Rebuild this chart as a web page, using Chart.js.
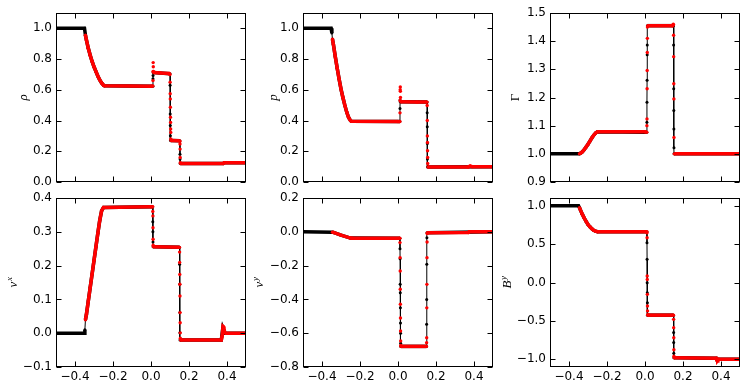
<!DOCTYPE html>
<html>
<head>
<meta charset="utf-8">
<script src="https://cdn.jsdelivr.net/npm/chart.js@4.4.1/dist/chart.umd.min.js"></script>
<style>
  html, body { margin: 0; padding: 0; background: #fff; }
  body { width: 748px; height: 390px; position: relative; overflow: hidden; }
  .panel { position: absolute; }
</style>
</head>
<body>
<div class="panel" id="w0"><canvas id="c0"></canvas></div>
<div class="panel" id="w1"><canvas id="c1"></canvas></div>
<div class="panel" id="w2"><canvas id="c2"></canvas></div>
<div class="panel" id="w3"><canvas id="c3"></canvas></div>
<div class="panel" id="w4"><canvas id="c4"></canvas></div>
<div class="panel" id="w5"><canvas id="c5"></canvas></div>
<script>
// shared x ticks
const xTicks = [-0.4, -0.2, 0.0, 0.2, 0.4];

// density rho
const rhoTicks = [0.0, 0.2, 0.4, 0.6, 0.8, 1.0];
const rhoRefX = [-0.5, -0.35, -0.345, -0.34, -0.33, -0.32, -0.31, -0.30, -0.29, -0.28, -0.27, -0.26, -0.25, -0.245, 0.01, 0.0105, 0.011, 0.0115, 0.1, 0.1005, 0.101, 0.1015, 0.102, 0.1025, 0.152, 0.1525, 0.153, 0.1535, 0.38, 0.385, 0.5];
const rhoRefY = [1.0, 1.0, 0.955, 0.925, 0.87, 0.825, 0.785, 0.75, 0.72, 0.69, 0.665, 0.645, 0.63, 0.626, 0.624, 0.672, 0.694, 0.712, 0.705, 0.629, 0.443, 0.367, 0.301, 0.27, 0.268, 0.181, 0.149, 0.12, 0.12, 0.125, 0.125];
const rhoNumX = [-0.345, -0.34, -0.33, -0.32, -0.31, -0.30, -0.29, -0.28, -0.27, -0.26, -0.25, -0.245, 0.0, 0.01, 0.0105, 0.011, 0.0115, 0.012, 0.0125, 0.014, 0.05, 0.095, 0.1, 0.1005, 0.101, 0.1015, 0.102, 0.1025, 0.103, 0.1035, 0.104, 0.1045, 0.106, 0.15, 0.152, 0.1525, 0.153, 0.1535, 0.154, 0.156, 0.38, 0.385, 0.5];
const rhoNumY = [0.955, 0.925, 0.87, 0.825, 0.785, 0.75, 0.72, 0.69, 0.665, 0.645, 0.63, 0.626, 0.624, 0.625, 0.66, 0.72, 0.777, 0.75, 0.72, 0.712, 0.71, 0.706, 0.70, 0.65, 0.574, 0.541, 0.487, 0.421, 0.388, 0.345, 0.323, 0.28, 0.27, 0.268, 0.265, 0.247, 0.214, 0.159, 0.126, 0.12, 0.12, 0.125, 0.125];

// pressure p
const pTicks = [0.0, 0.2, 0.4, 0.6, 0.8, 1.0];
const pRefX = [-0.5, -0.352, -0.348, -0.345, -0.34, -0.33, -0.32, -0.31, -0.30, -0.29, -0.28, -0.27, -0.26, -0.25, -0.245, 0.01, 0.0105, 0.011, 0.0115, 0.153, 0.1535, 0.154, 0.1545, 0.155, 0.1555, 0.5];
const pRefY = [1.0, 1.0, 0.97, 0.93, 0.895, 0.815, 0.74, 0.67, 0.605, 0.55, 0.5, 0.455, 0.42, 0.4, 0.395, 0.394, 0.478, 0.533, 0.522, 0.52, 0.45, 0.36, 0.25, 0.15, 0.098, 0.1];
const pNumX = [-0.345, -0.34, -0.33, -0.32, -0.31, -0.30, -0.29, -0.28, -0.27, -0.26, -0.25, -0.245, 0.0, 0.01, 0.0105, 0.011, 0.0115, 0.012, 0.0125, 0.013, 0.015, 0.10, 0.153, 0.1535, 0.154, 0.1545, 0.155, 0.1555, 0.156, 0.1565, 0.158, 0.37, 0.38, 0.39, 0.5];
const pNumY = [0.93, 0.895, 0.815, 0.74, 0.67, 0.605, 0.55, 0.5, 0.455, 0.42, 0.4, 0.395, 0.393, 0.394, 0.45, 0.53, 0.6, 0.618, 0.59, 0.55, 0.522, 0.52, 0.52, 0.498, 0.40, 0.30, 0.257, 0.203, 0.159, 0.12, 0.098, 0.098, 0.104, 0.1, 0.1];

// Lorentz factor Gamma
const gamTicks = [0.9, 1.0, 1.1, 1.2, 1.3, 1.4, 1.5];
const gamRefX = [-0.5, -0.345, -0.34, -0.33, -0.32, -0.31, -0.30, -0.29, -0.28, -0.27, -0.26, -0.25, 0.0095, 0.01, 0.0105, 0.011, 0.0115, 0.012, 0.0125, 0.15, 0.1505, 0.151, 0.1515, 0.152, 0.1525, 0.153, 0.5];
const gamRefY = [1.0, 1.0, 1.002, 1.007, 1.015, 1.024, 1.034, 1.045, 1.056, 1.066, 1.074, 1.078, 1.077, 1.112, 1.183, 1.261, 1.352, 1.386, 1.455, 1.455, 1.386, 1.231, 1.154, 1.088, 1.022, 1.0, 1.0];
const gamNumX = [-0.345, -0.34, -0.33, -0.32, -0.31, -0.30, -0.29, -0.28, -0.27, -0.26, -0.25, 0.0, 0.0095, 0.01, 0.0105, 0.011, 0.0115, 0.012, 0.0125, 0.013, 0.015, 0.145, 0.149, 0.15, 0.1505, 0.151, 0.1515, 0.152, 0.1525, 0.154, 0.5];
const gamNumY = [1.0, 1.002, 1.007, 1.015, 1.024, 1.034, 1.045, 1.056, 1.066, 1.074, 1.078, 1.078, 1.077, 1.1, 1.124, 1.231, 1.296, 1.36, 1.41, 1.45, 1.455, 1.455, 1.46, 1.458, 1.421, 1.345, 1.249, 1.195, 1.058, 1.0, 1.0];

// velocity v^x
const vxTicks = [-0.1, 0.0, 0.1, 0.2, 0.3, 0.4];
const vxRefX = [-0.5, -0.352, -0.348, -0.345, -0.34, -0.33, -0.32, -0.31, -0.30, -0.29, -0.28, -0.27, -0.26, -0.25, 0.009, 0.0095, 0.01, 0.0105, 0.011, 0.15, 0.1505, 0.151, 0.1515, 0.152, 0.1525, 0.37, 0.378, 0.388, 0.5];
const vxRefY = [0.0, 0.0, 0.01, 0.04, 0.055, 0.095, 0.135, 0.175, 0.215, 0.255, 0.295, 0.333, 0.362, 0.372, 0.374, 0.33, 0.3, 0.27, 0.256, 0.254, 0.204, 0.145, 0.061, 0.001, -0.02, -0.02, 0.015, 0.0, 0.0];
const vxNumX = [-0.345, -0.34, -0.33, -0.32, -0.31, -0.30, -0.29, -0.28, -0.27, -0.26, -0.25, 0.0, 0.009, 0.0095, 0.01, 0.0105, 0.011, 0.0115, 0.013, 0.15, 0.1505, 0.151, 0.1515, 0.152, 0.1525, 0.153, 0.1535, 0.154, 0.1545, 0.156, 0.37, 0.374, 0.379, 0.383, 0.388, 0.395, 0.5];
const vxNumY = [0.04, 0.055, 0.095, 0.135, 0.175, 0.215, 0.255, 0.295, 0.333, 0.362, 0.372, 0.374, 0.374, 0.36, 0.347, 0.312, 0.278, 0.26, 0.256, 0.254, 0.24, 0.209, 0.174, 0.145, 0.11, 0.061, 0.031, 0.001, -0.015, -0.02, -0.02, -0.01, 0.02, 0.018, 0.002, 0.0, 0.0];

// velocity v^y
const vyTicks = [-0.8, -0.6, -0.4, -0.2, 0.0, 0.2];
const vyRefX = [-0.5, -0.345, -0.34, -0.30, -0.25, 0.01, 0.0105, 0.011, 0.0115, 0.012, 0.0125, 0.013, 0.0135, 0.014, 0.0145, 0.15, 0.1505, 0.151, 0.1515, 0.152, 0.1525, 0.5];
const vyRefY = [0.0, -0.002, -0.004, -0.02, -0.037, -0.038, -0.1, -0.16, -0.31, -0.36, -0.45, -0.54, -0.6, -0.66, -0.678, -0.678, -0.547, -0.40, -0.192, -0.035, -0.005, 0.0];
const vyNumX = [-0.345, -0.34, -0.30, -0.25, -0.24, 0.01, 0.0105, 0.011, 0.0115, 0.012, 0.0125, 0.013, 0.0135, 0.014, 0.0145, 0.016, 0.15, 0.1505, 0.151, 0.1515, 0.152, 0.1525, 0.153, 0.1535, 0.155, 0.37, 0.375, 0.5];
const vyNumY = [-0.002, -0.004, -0.02, -0.037, -0.038, -0.038, -0.064, -0.153, -0.232, -0.34, -0.429, -0.51, -0.587, -0.646, -0.672, -0.678, -0.678, -0.656, -0.627, -0.45, -0.311, -0.153, -0.06, -0.01, -0.005, -0.004, 0.0, 0.0];

// magnetic field B^y
const byTicks = [-1.0, -0.5, 0.0, 0.5, 1.0];
const byRefX = [-0.5, -0.35, -0.345, -0.34, -0.33, -0.32, -0.31, -0.30, -0.29, -0.28, -0.27, -0.26, -0.25, 0.01, 0.0105, 0.011, 0.0115, 0.012, 0.0125, 0.013, 0.15, 0.1505, 0.151, 0.1515, 0.152, 0.375, 0.38, 0.388, 0.5];
const byRefY = [1.0, 1.0, 0.975, 0.945, 0.89, 0.84, 0.795, 0.755, 0.725, 0.70, 0.68, 0.668, 0.662, 0.662, 0.518, 0.302, -0.003, -0.133, -0.263, -0.425, -0.425, -0.65, -0.78, -0.92, -0.98, -0.985, -1.015, -1.0, -1.0];
const byNumX = [-0.345, -0.34, -0.33, -0.32, -0.31, -0.30, -0.29, -0.28, -0.27, -0.26, -0.25, 0.01, 0.0105, 0.011, 0.0115, 0.012, 0.0125, 0.013, 0.0135, 0.014, 0.016, 0.15, 0.1505, 0.151, 0.1515, 0.152, 0.1525, 0.154, 0.375, 0.379, 0.383, 0.388, 0.5];
const byNumY = [0.975, 0.945, 0.89, 0.84, 0.795, 0.755, 0.725, 0.70, 0.68, 0.668, 0.662, 0.662, 0.648, 0.583, 0.084, 0.04, -0.154, -0.306, -0.37, -0.42, -0.425, -0.425, -0.48, -0.588, -0.72, -0.875, -0.96, -0.98, -0.985, -1.012, -1.015, -1.0, -1.0];

const panels = [
  { n: 0, left: 0,   top: 1,   bottomRow: false, yMin: 0,    yMax: 1.1, yTicks: rhoTicks, refX: rhoRefX, refY: rhoRefY, numX: rhoNumX, numY: rhoNumY, label: { base: 'ρ', sup: '', x: 23, italic: true } },
  { n: 1, left: 247, top: 1,   bottomRow: false, yMin: 0,    yMax: 1.1, yTicks: pTicks,   refX: pRefX,   refY: pRefY,   numX: pNumX,   numY: pNumY,   label: { base: 'p', sup: '', x: 26, italic: true } },
  { n: 2, left: 494, top: 1,   bottomRow: false, yMin: 0.9,  yMax: 1.5, yTicks: gamTicks, refX: gamRefX, refY: gamRefY, numX: gamNumX, numY: gamNumY, label: { base: 'Γ', sup: '', x: 21, italic: false } },
  { n: 3, left: 0,   top: 186, bottomRow: true,  yMin: -0.1, yMax: 0.4, yTicks: vxTicks,  refX: vxRefX,  refY: vxRefY,  numX: vxNumX,  numY: vxNumY,  label: { base: 'v', sup: 'x', x: 13, italic: true } },
  { n: 4, left: 247, top: 186, bottomRow: true,  yMin: -0.8, yMax: 0.2, yTicks: vyTicks,  refX: vyRefX,  refY: vyRefY,  numX: vyNumX,  numY: vyNumY,  label: { base: 'v', sup: 'y', x: 12, italic: true } },
  { n: 5, left: 494, top: 186, bottomRow: true,  yMin: -1.1, yMax: 1.1, yTicks: byTicks,  refX: byRefX,  refY: byRefY,  numX: byNumX,  numY: byNumY,  label: { base: 'B', sup: 'y', x: 13, italic: true } }
];

Chart.defaults.font.family = 'DejaVu Sans';
Chart.defaults.font.size = 12;
Chart.defaults.color = '#000';

function fmt(v) {
  return (v < -1e-9 ? '\u2212' : '') + Math.abs(v).toFixed(1);
}

// segments between points at (almost) the same x are the jumps: keep them thin
function steep(c) {
  return Math.abs(c.p1.x - c.p0.x) < 0.7;
}

// matplotlib style frame, inward ticks on all sides, and the y label
const framePlugin = {
  id: 'frame',
  afterDatasetsDraw(chart, args, opts) {
    const { ctx, chartArea: a, scales } = chart;
    const l = Math.round(a.left) + 0.5, t = Math.round(a.top) + 0.5;
    const r = Math.round(a.right) - 0.5, b = Math.round(a.bottom) - 0.5;
    ctx.save();
    ctx.strokeStyle = '#000';
    ctx.lineWidth = 1;
    ctx.strokeRect(l, t, r - l, b - t);
    ctx.beginPath();
    scales.x.ticks.forEach(tk => {
      const px = Math.round(scales.x.getPixelForValue(tk.value)) + 0.5;
      ctx.moveTo(px, b); ctx.lineTo(px, b - 5);
      ctx.moveTo(px, t); ctx.lineTo(px, t + 5);
    });
    scales.y.ticks.forEach(tk => {
      const py = Math.round(scales.y.getPixelForValue(tk.value)) + 0.5;
      ctx.moveTo(l, py); ctx.lineTo(l + 5, py);
      ctx.moveTo(r, py); ctx.lineTo(r - 5, py);
    });
    ctx.stroke();

    const lab = opts.label;
    const cy = (a.top + a.bottom) / 2;
    ctx.translate(lab.x, cy);
    ctx.rotate(-Math.PI / 2);
    ctx.fillStyle = '#000';
    ctx.textBaseline = 'alphabetic';
    const baseFont = (lab.italic ? 'italic ' : '') + '13px "Liberation Serif"';
    const supFont = 'italic 9px "Liberation Serif"';
    ctx.font = baseFont;
    const wb = ctx.measureText(lab.base).width;
    ctx.font = supFont;
    const ws = lab.sup ? ctx.measureText(lab.sup).width : 0;
    const x0 = -(wb + ws) / 2;
    ctx.font = baseFont;
    ctx.fillText(lab.base, x0, 4);
    if (lab.sup) {
      ctx.font = supFont;
      ctx.fillText(lab.sup, x0 + wb + 0.5, -1);
    }
    ctx.restore();
  }
};

function makePanel(p) {
  const wrap = document.getElementById('w' + p.n);
  const canvas = document.getElementById('c' + p.n);
  const w = 252;
  const h = p.bottomRow ? 203 : 193;
  wrap.style.left = p.left + 'px';
  wrap.style.top = p.top + 'px';
  canvas.width = w;
  canvas.height = h;
  canvas.style.width = w + 'px';
  canvas.style.height = h + 'px';

  const refData = p.refX.map((x, i) => ({ x: x, y: p.refY[i] }));
  const numData = p.numX.map((x, i) => ({ x: x, y: p.numY[i] }));

  new Chart(canvas, {
    type: 'scatter',
    data: {
      datasets: [
        {
          label: 'numerical',
          data: numData,
          showLine: true,
          borderColor: '#ff0000',
          borderWidth: 3.5,
          pointRadius: 1.7,
          pointBackgroundColor: '#ff0000',
          pointBorderWidth: 0,
          order: 0,
          clip: 0,
          segment: { borderColor: c => steep(c) ? 'rgba(255,0,0,0)' : '#ff0000' }
        },
        {
          label: 'reference',
          data: refData,
          showLine: true,
          borderColor: '#000000',
          borderWidth: 3.5,
          pointRadius: 1.5,
          pointBackgroundColor: '#000000',
          pointBorderWidth: 0,
          order: 1,
          clip: 0,
          segment: { borderWidth: c => steep(c) ? 1 : 3.5 }
        }
      ]
    },
    options: {
      responsive: false,
      animation: false,
      devicePixelRatio: 1,
      events: [],
      layout: { padding: { top: 12, right: 6, bottom: 0, left: 0 } },
      plugins: {
        legend: { display: false },
        tooltip: { enabled: false },
        frame: { label: p.label }
      },
      scales: {
        x: {
          type: 'linear',
          min: -0.5,
          max: 0.5,
          afterBuildTicks: s => { s.ticks = xTicks.map(v => ({ value: v })); },
          afterFit: s => { s.height = p.bottomRow ? 22 : 12; },
          grid: { display: false, drawTicks: false },
          border: { display: false },
          ticks: { display: p.bottomRow, padding: 3, autoSkip: false, maxRotation: 0, callback: fmt }
        },
        y: {
          type: 'linear',
          min: p.yMin,
          max: p.yMax,
          afterBuildTicks: s => { s.ticks = p.yTicks.map(v => ({ value: v })); },
          afterFit: s => { s.width = 56; },
          grid: { display: false, drawTicks: false },
          border: { display: false },
          ticks: { padding: 4, autoSkip: false, callback: fmt }
        }
      }
    },
    plugins: [framePlugin]
  });
}

panels.forEach(makePanel);
</script>
</body>
</html>
